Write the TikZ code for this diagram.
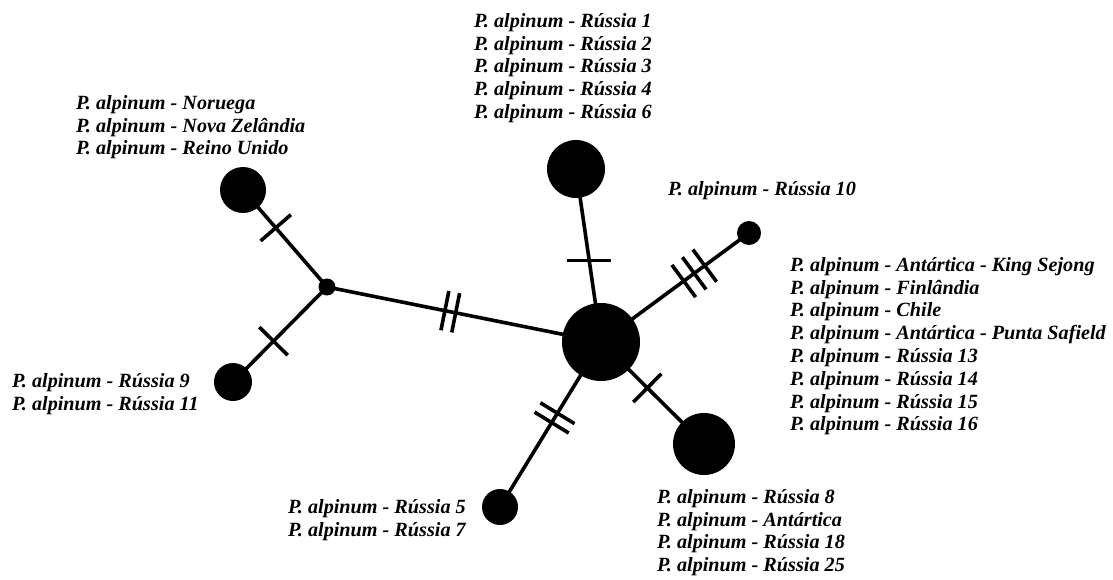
\documentclass[tikz,border=0pt]{standalone}
\usepackage{fontspec}
\setmainfont{Liberation Serif}
\usetikzlibrary{decorations.markings}
\tikzset{x=1pt,y=-1pt}
\tikzset{hap/.style={circle,fill=black,inner sep=0pt},
         lbl/.style={anchor=north west,align=left,inner sep=0pt,
                     font=\bfseries\itshape\fontsize{20.2}{22.8}\selectfont},
         link/.style={line width=3.6pt}}
\tikzset{onebar/.style={postaction={decorate,decoration={markings,
           mark=at position #1 with {\draw[line width=3.6pt] (0,-20) -- (0,20);}}}},
         flatbar/.style={postaction={decorate,decoration={markings,
           mark=at position #1 with {\pgftransformresetnontranslations
                                     \draw[line width=3.6pt] (-22,0) -- (22,0);}}}},
         twobars/.style={postaction={decorate,decoration={markings,
           mark=at position #1 with {\draw[line width=3.6pt] (-5.5,-20) -- (-5.5,20) (5.5,-20) -- (5.5,20);}}}},
         threebars/.style={postaction={decorate,decoration={markings,
           mark=at position #1 with {\draw[line width=3.6pt] (-13,-20) -- (-13,20) (0,-20) -- (0,20) (13,-20) -- (13,20);}}}}}

\begin{document}
\begin{tikzpicture}
                    \useasboundingbox (0,0) rectangle (1113,580);
                    \node[hap,minimum size=78pt] (hub)  at (601,342) {};
                    \node[hap,minimum size=58pt] (rus)  at (576,169) {};
                    \node[hap,minimum size=24pt] (r10)  at (749,233) {};
                    \node[hap,minimum size=62pt] (ant)  at (704,444) {};
                    \node[hap,minimum size=36pt] (r57)  at (500,507) {};
                    \node[hap,minimum size=17pt] (jn)   at (327,287) {};
                    \node[hap,minimum size=46pt] (nor)  at (243,190) {};
                    \node[hap,minimum size=38pt] (r911) at (233,382) {};
                    \path[link]
                        (nor.center)  edge[onebar=0.39]    (jn.center)
                        (jn.center)   edge[onebar=0.57]    (r911.center)
                        (jn.center)   edge[twobars=0.45]   (hub.center)
                        (rus.center)  edge[flatbar=0.53]   (hub.center)
                        (hub.center)  edge[threebars=0.63] (r10.center)
                        (hub.center)  edge[onebar=0.45]    (ant.center)
                        (hub.center)  edge[twobars=0.46]   (r57.center)
                    ;
                    \node[lbl] (trus) at (474,13) {P. alpinum - Rússia 1\\P. alpinum - Rússia 2\\P. alpinum - Rússia 3\\P. alpinum - Rússia 4\\P. alpinum - Rússia 6};
                    \node[lbl] (tnor) at (76,95) {P. alpinum - Noruega\\P. alpinum - Nova Zelândia\\P. alpinum - Reino Unido};
                    \node[lbl] (tr10) at (668,181) {P. alpinum - Rússia 10};
                    \node[lbl] (thub) at (790,257) {P. alpinum - Antártica - King Sejong\\P. alpinum - Finlândia\\P. alpinum - Chile\\P. alpinum - Antártica - Punta Safield\\P. alpinum - Rússia 13\\P. alpinum - Rússia 14\\P. alpinum - Rússia 15\\P. alpinum - Rússia 16};
                    \node[lbl] (tr911) at (12,373) {P. alpinum - Rússia 9\\P. alpinum - Rússia 11};
                    \node[lbl] (tr57) at (288,499) {P. alpinum - Rússia 5\\P. alpinum - Rússia 7};
                    \node[lbl] (tant) at (657,489) {P. alpinum - Rússia 8\\P. alpinum - Antártica\\P. alpinum - Rússia 18\\P. alpinum - Rússia 25};
                \end{tikzpicture}
\end{document}
